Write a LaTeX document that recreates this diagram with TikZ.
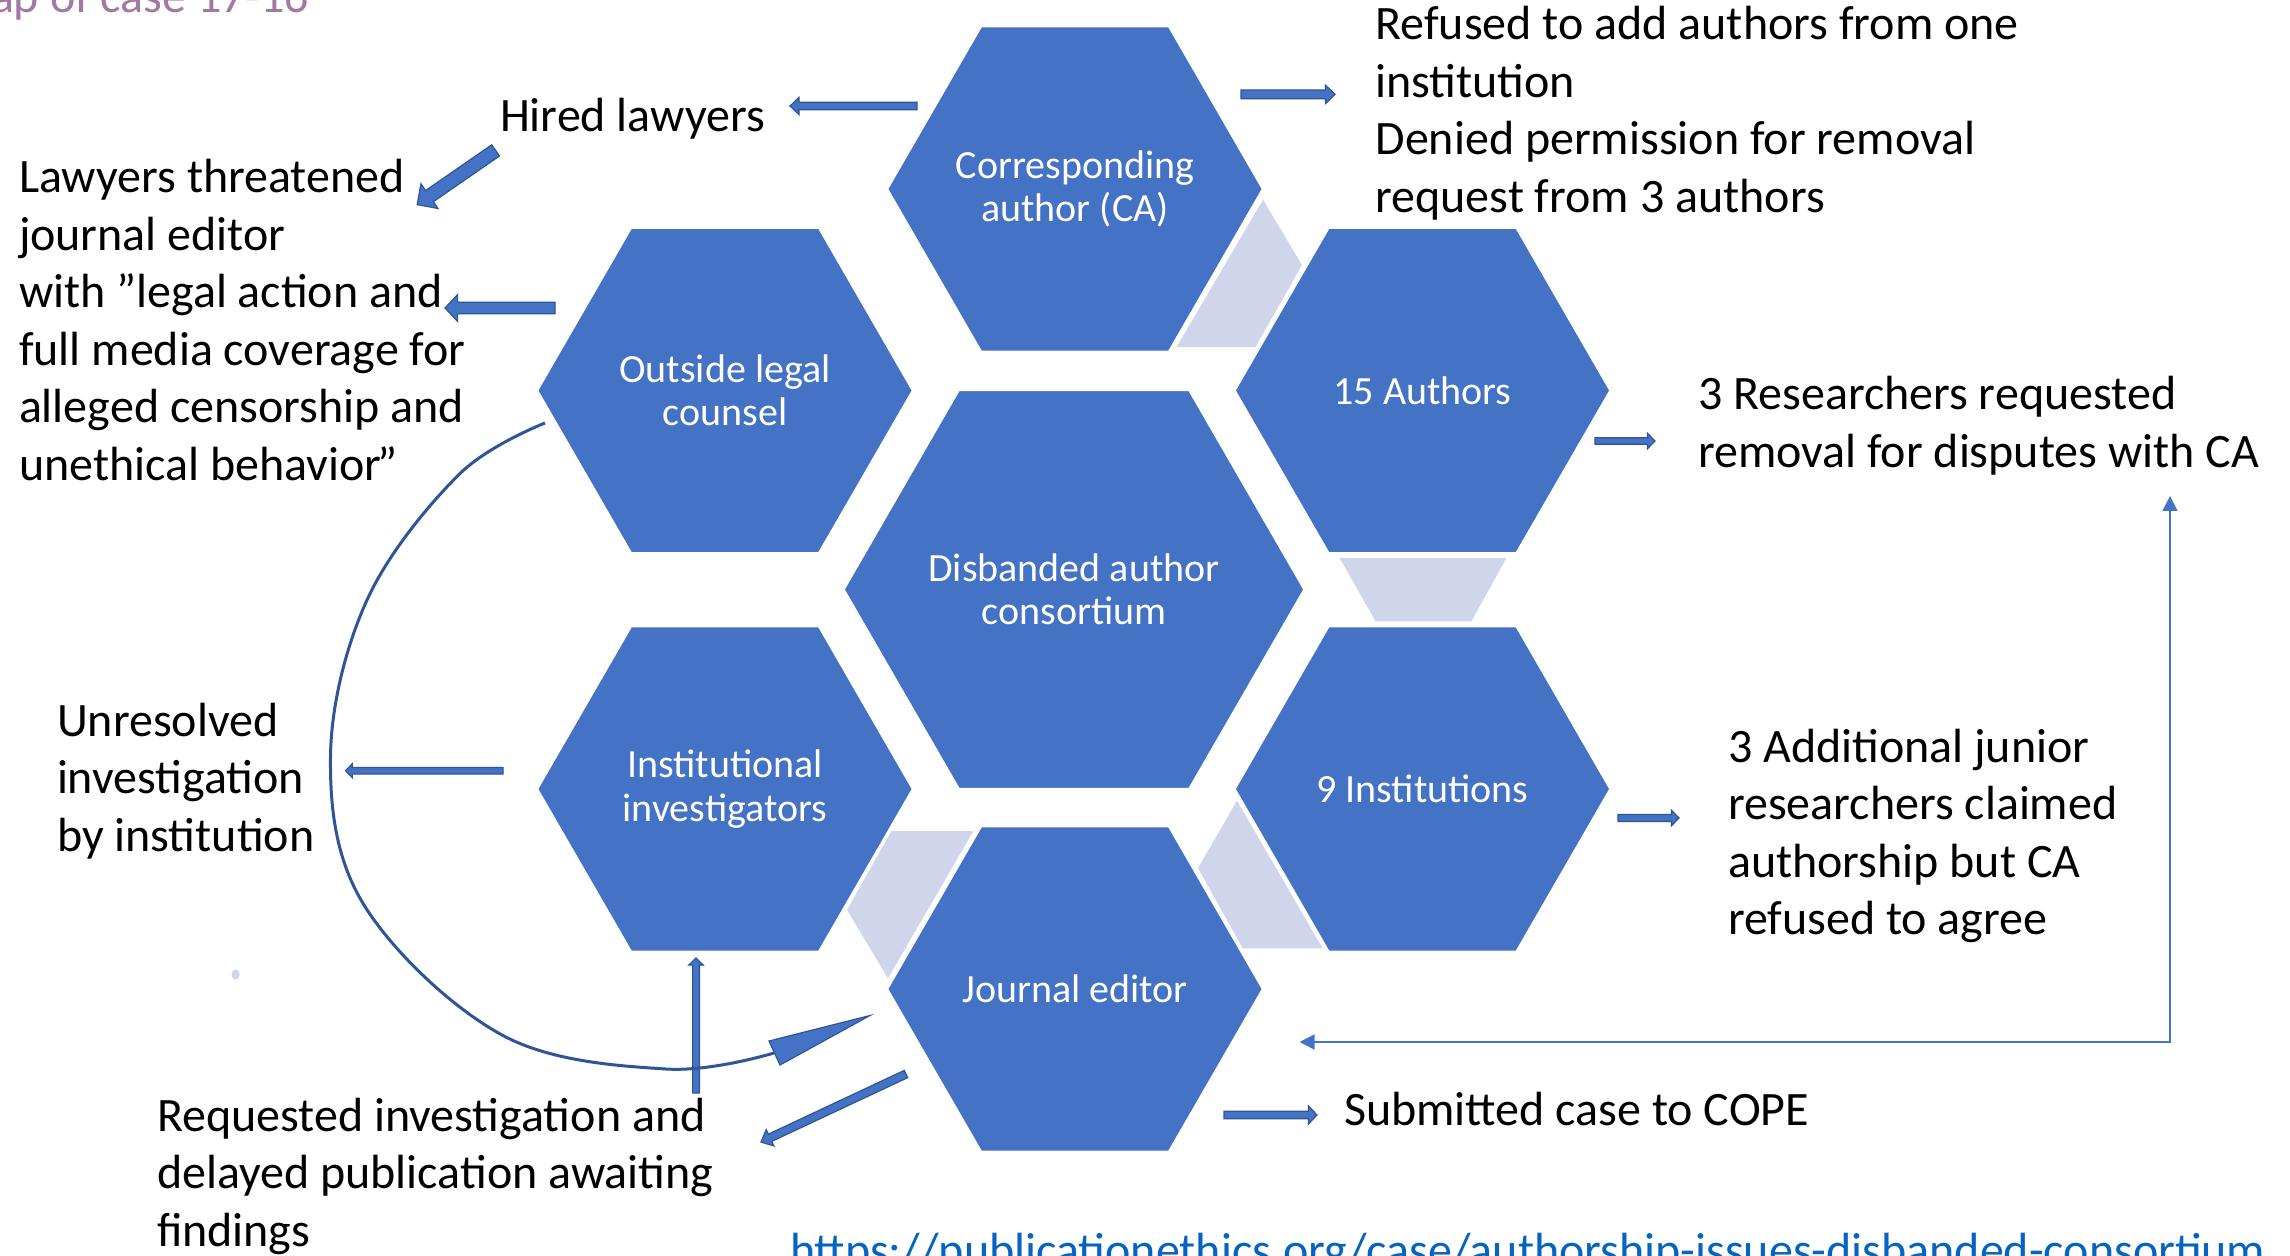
\documentclass[tikz,border=0pt]{standalone}
\usepackage{fontspec}
\setmainfont{Carlito}
\usetikzlibrary{shapes.geometric,arrows.meta}
\definecolor{hexblue}{HTML}{4472C4}
\definecolor{darkblue}{HTML}{2F5597}
\definecolor{lav}{HTML}{CFD5EA}
\definecolor{titlecol}{HTML}{A07AA0}
\definecolor{linkcol}{HTML}{0563C1}
\newcommand\plines[1]{\vtop{\halign{##\hfil\cr#1\crcr}}}
\tikzset{
  hexbox/.style={regular polygon, regular polygon sides=6, minimum size=187.5pt,
    inner sep=0pt, outer sep=0pt, fill=hexblue, draw=white, line width=0.75pt},
  bighex/.style={hexbox, minimum size=230pt},
  hexlabel/.style={inner sep=0pt, outer sep=0pt, text=white, align=center,
    font=\fontsize{20pt}{21.75pt}\selectfont},
  lavshape/.style={fill=lav, draw=white, line width=0.75pt},
  bodytext/.style={inner sep=0pt, outer sep=0pt, anchor=base west,
    font=\fontsize{24pt}{28.75pt}\selectfont, text=black},
  barrowstyle/.style={fill=hexblue, draw=darkblue, line width=0.6pt, line join=miter},
  arcline/.style={draw=darkblue, line width=1.5pt},
  elbowline/.style={draw=hexblue, line width=0.75pt},
  pics/blockarrow/.style n args={4}{code={
    \path[barrowstyle] (0,-#2) -- ({#1-#4},-#2) -- ({#1-#4},-#3) -- (#1,0)
      -- ({#1-#4},#3) -- ({#1-#4},#2) -- (0,#2) -- cycle;}},
}
\begin{document}
\begin{tikzpicture}[x=0.5pt,y=-0.5pt]
\path[use as bounding box, fill=white] (0,0) rectangle (2290,1256);
\clip (0,0) rectangle (2290,1256);

% lavender link shapes
\path[lavshape] (1263,198) -- (1303,265) -- (1256,348) -- (1175,348) -- cycle;
\path[lavshape] (1338,557) -- (1508,557) -- (1472,622) -- (1375,622) -- cycle;
\path[lavshape] (1237,799) -- (1197,868) -- (1242,949) -- (1324,949) -- cycle;
\path[lavshape] (891,830) -- (975,830) -- (888,980) -- (846,910) -- cycle;
\path[fill=lav] (235.6,974.5) ellipse [x radius=2pt, y radius=2.6pt];

% hexagons
\node[hexbox] (ca) at (1075,189) {};
\node[hexbox] (authors) at (1422.5,390.5) {};
\node[hexbox] (counsel) at (725,390.5) {};
\node[bighex] (consortium) at (1074,589.5) {};
\node[hexbox] (investigators) at (725,789) {};
\node[hexbox] (institutions) at (1422.5,789) {};
\node[hexbox] (editor) at (1075,989) {};

% hexagon labels
\node[hexlabel] (ca-t) at (ca.center) {Corresponding\\author (CA)};
\node[hexlabel] (authors-t) at (authors.center) {15 Authors};
\node[hexlabel] (counsel-t) at (counsel.center) {Outside legal\\counsel};
\node[hexlabel] (consortium-t) at (consortium.center) {Disbanded author\\consortium};
\node[hexlabel] (investigators-t) at (investigators.center) {Institutional\\investigators};
\node[hexlabel] (institutions-t) at (institutions.center) {9 Institutions};
\node[hexlabel] (editor-t) at (editor.center) {Journal editor};

% texts
\node[bodytext, text=titlecol] (title) at (-9,13) {ap of case 17-16};
\node[bodytext] (hired) at (500,132) {Hired lawyers};
\node[bodytext] (threat) at (19,193) {\plines{Lawyers threatened\cr journal editor\cr with ”legal action and\cr full media coverage for\cr alleged censorship and\cr unethical behavior\kern-2pt”}};
\node[bodytext] (unresolved) at (57,736) {\plines{Unresolved\cr investigation\cr by institution}};
\node[bodytext] (requested) at (157,1131) {\plines{Requested investigation and\cr delayed publication awaiting\cr findings}};
\node[bodytext] (refused) at (1375.5,40) {\plines{Refused to add authors from one\cr institution\cr Denied permission for removal\cr request from 3 authors}};
\node[bodytext] (researchers) at (1698,410) {\plines{3 Researchers requested\cr removal for disputes with CA}};
\node[bodytext] (additional) at (1728,762) {\plines{3 Additional junior\cr researchers claimed\cr authorship but CA\cr refused to agree}};
\node[bodytext] (cope) at (1344,1125) {Submitted case to COPE};
\node[bodytext, text=linkcol] (url) at (790,1266) {https://publicationethics.org/case/authorship-issues-disbanded-consortium};

% block arrows (tail coordinates)
\coordinate (a1) at (917,106);
\coordinate (a2) at (495.6,150.4);
\coordinate (a3) at (555,308);
\coordinate (a4) at (503,770.7);
\coordinate (a5) at (696,1093);
\coordinate (a6) at (906,1074);
\coordinate (a7) at (1224,1115);
\coordinate (a8) at (1618,818);
\coordinate (a9) at (1595,441);
\coordinate (a10) at (1241,94.4);
\pic[rotate=180] at (a1) {blockarrow={127}{3.8}{8.6}{9}};
\pic[rotate=214.67] at (a2) {blockarrow={95.4}{6.8}{15}{15}};
\pic[rotate=180] at (a3) {blockarrow={110}{5.8}{13.4}{12.6}};
\pic[rotate=180] at (a4) {blockarrow={157.4}{3.3}{7}{6.7}};
\pic[rotate=90] at (a5) {blockarrow={135}{3.4}{7.2}{7}};
\pic[rotate=205.13] at (a6) {blockarrow={160.2}{4}{9}{10}};
\pic at (a7) {blockarrow={93}{3.8}{9}{8.5}};
\pic at (a8) {blockarrow={61}{3.5}{7.8}{7.6}};
\pic at (a9) {blockarrow={60}{3.3}{7.7}{7.5}};
\pic at (a10) {blockarrow={94}{4.3}{9.2}{9.5}};

% curved arrow from legal counsel round to journal editor
\coordinate (arcstart) at (545,423);
\coordinate (arcend) at (774,1053);
\coordinate (arctip) at (870,1015.5);
\path[arcline] plot[smooth, tension=0.6] coordinates {(arcstart) (459,474.5) (367,600) (330.5,757) (364,905) (502,1035) (666,1069) (arcend)};
\path[barrowstyle] (769,1041) -- (arctip) -- (780,1065) -- cycle;

% elbow connector
\coordinate (elbowL) at (1299.5,1042);
\coordinate (elbow) at (2170,1042);
\coordinate (elbowT) at (2170,496);
\draw[elbowline, {Triangle[length=7.5pt,width=7.5pt]}-{Triangle[length=7.5pt,width=7.5pt]}] (elbowL) -- (elbow) -- (elbowT);
\end{tikzpicture}
\end{document}
